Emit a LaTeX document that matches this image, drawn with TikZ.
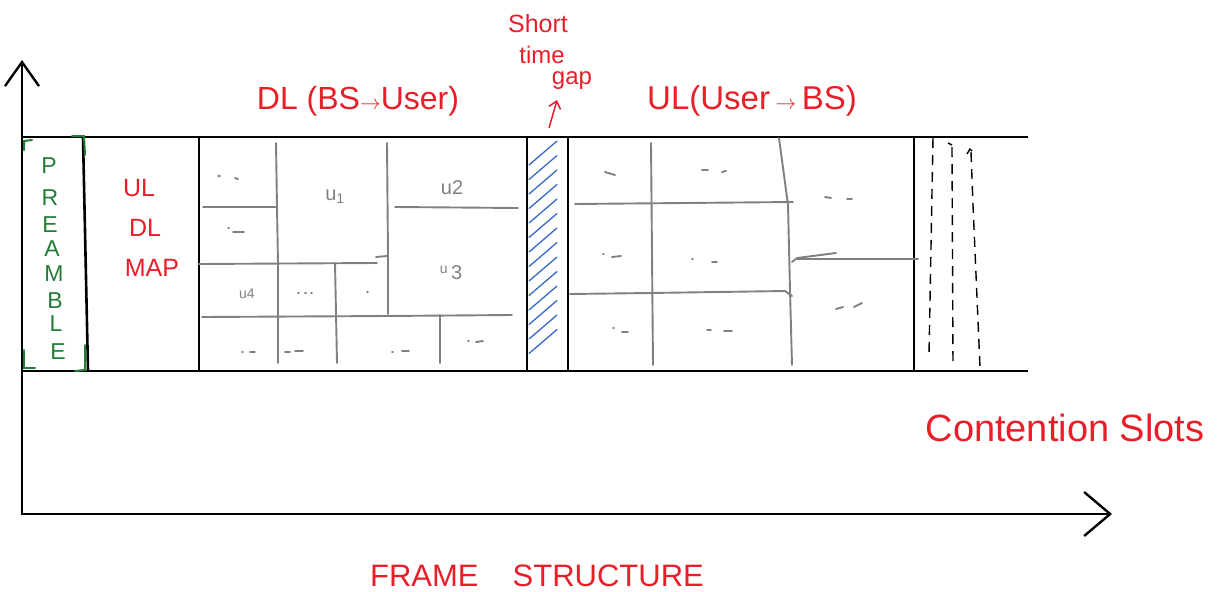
\documentclass[tikz,border=0pt]{standalone}
\usepackage{fontspec}
\setmainfont{Liberation Sans}
\usetikzlibrary{arrows.meta}
\definecolor{hred}{RGB}{232,30,40}
\definecolor{hgreen}{RGB}{35,125,55}
\definecolor{hblue}{RGB}{55,105,200}
\definecolor{hgrey}{RGB}{128,128,128}
\tikzset{
  frameline/.style={line width=2.6pt, black},
  axisline/.style={line width=2.6pt, black, line cap=round},
  gridline/.style={line width=1.9pt, hgrey, line cap=round, line join=round},
  gmark/.style={line width=1.9pt, hgrey, line cap=round},
  hatchline/.style={line width=1.3pt, hblue, line cap=round},
  slotline/.style={line width=1.4pt, black, dash pattern=on 10pt off 7pt},
  bracket/.style={line width=2pt, hgreen, line cap=round},
  redtxt/.style={text=hred, inner sep=0pt},
  greentxt/.style={text=hgreen, inner sep=0pt, font=\fontsize{23}{23}\selectfont},
  greytxt/.style={text=hgrey, inner sep=0pt},
}
\begin{document}
\begin{tikzpicture}[x=1pt,y=-1pt]
\useasboundingbox (0,0) rectangle (1219,592);
% axes
\coordinate (origin) at (22,514);
\coordinate (ytop) at (22,60);
\coordinate (xend) at (1112,514);
\draw[axisline, -{Straight Barb[length=24pt,width=34pt,line width=2.4pt]}] (origin) -- (ytop);
\draw[axisline, -{Straight Barb[length=26pt,width=44pt,line width=2.4pt]}] (origin) -- (xend);
% frame top/bottom
\coordinate (tl) at (22,137);
\coordinate (tr) at (1028,137);
\coordinate (bl) at (22,371);
\coordinate (br) at (1028,371);
\draw[frameline] (tl) -- (tr);
\draw[frameline] (bl) -- (br);
% separators
\draw[frameline] (83,137) -- (88,371);
\draw[frameline] (199,137) -- (199,371);
\draw[frameline] (527,137) -- (527,371);
\draw[frameline] (568,137) -- (568,371);
\draw[frameline] (914,137) -- (914,371);
% preamble brackets
\draw[bracket] (24,150) -- (24,141) -- (32,140);
\draw[bracket] (72,136) -- (84,136) -- (85,155);
\draw[bracket] (24,350) -- (24,368) -- (35,368);
\draw[bracket] (85,345) -- (85,370) -- (75,371);
% preamble letters
\node[greentxt] (p1) at (49,166) {P};
\node[greentxt] (p2) at (50,198) {R};
\node[greentxt] (p3) at (50,225) {E};
\node[greentxt] (p4) at (52,249) {A};
\node[greentxt] (p5) at (54,274) {M};
\node[greentxt] (p6) at (55,301) {B};
\node[greentxt] (p7) at (56,324) {L};
\node[greentxt] (p8) at (58,352) {E};
% UL DL MAP
\node[redtxt, font=\fontsize{25}{25}\selectfont] (m1) at (139,188) {UL};
\node[redtxt, font=\fontsize{25}{25}\selectfont] (m2) at (145,228) {DL};
\node[redtxt, font=\fontsize{25}{25}\selectfont] (m3) at (152,268) {MAP};
% DL grid
\draw[gridline] (276,143) -- (277,207) -- (278,263) -- (278,363);
\draw[gridline] (203,207) -- (277,207);
\draw[gridline] (387,143) -- (388,256) -- (388,314);
\draw[gridline] (198,264) -- (377,263);
\draw[gridline] (376,257) -- (387,256);
\draw[gridline] (395,207) -- (518,208);
\draw[gridline] (335,263) -- (337,363);
\draw[gridline] (202,317) -- (387,316) -- (512,315);
\draw[gridline] (440,315) -- (440,363);
\node[greytxt, font=\fontsize{20}{20}\selectfont] (u1) at (335,197) {u\textsubscript{1}};
\node[greytxt, font=\fontsize{20}{20}\selectfont] (u2) at (452,188) {u2};
\node[greytxt, font=\fontsize{20}{20}\selectfont] (u3) at (451,273) {\raisebox{0.6ex}{\fontsize{14}{14}\selectfont u}\,3};
\node[greytxt, font=\fontsize{14}{14}\selectfont] (u4) at (247,294) {u4};
% DL marks
\draw[gmark] (218,176) -- (220,176) (235,178) -- (238,179);
\draw[gmark] (228,228) -- (229,228) (233,232) -- (244,232);
\draw[gmark] (298,293) -- (299,293) (305,293) -- (306,293) (311,293) -- (312,293);
\draw[gmark] (367,292) -- (368,292);
\draw[gmark] (242,352) -- (243,352) (250,352) -- (255,352);
\draw[gmark] (285,352) -- (290,352) (295,351) -- (303,351);
\draw[gmark] (392,352) -- (393,352) (402,351) -- (409,351);
\draw[gmark] (468,341) -- (469,341) (476,342) -- (483,341);
% UL grid
\draw[gridline] (651,143) -- (653,365);
\draw[gridline] (779,138) -- (788,205) -- (790,290) -- (792,365);
\draw[gridline] (575,204) -- (793,202);
\draw[gridline] (792,262) -- (797,258) -- (836,253);
\draw[gridline] (797,259) -- (918,259);
\draw[gridline] (570,294) -- (650,293) -- (785,291) -- (792,296);
% UL marks
\draw[gmark] (605,172) -- (615,175);
\draw[gmark] (702,170) -- (708,170) (722,172) -- (726,171);
\draw[gmark] (825,197) -- (831,198) (847,199) -- (852,199);
\draw[gmark] (603,254) -- (604,254) (612,257) -- (621,256);
\draw[gmark] (692,259) -- (693,259) (712,262) -- (717,262);
\draw[gmark] (836,309) -- (843,307) (854,307) -- (862,303);
\draw[gmark] (613,328) -- (614,328) (622,332) -- (628,332);
\draw[gmark] (707,330) -- (711,330) (724,331) -- (732,331);
% gap hatch
\foreach \i in {0,...,13}{
  \draw[hatchline] (529,{165+14.5*\i}) -- (557,{141+14.5*\i});
}
% contention slots dashed
\draw[slotline] (933,138) -- (929,355);
\draw[line width=1.4pt] (948,143) -- (952,145);
\draw[slotline] (952,147) -- (953,367);
\draw[line width=1.4pt] (967,154) -- (970,149) -- (972,151);
\draw[slotline] (971,152) -- (973,205) -- (980,367);
% labels
\node[redtxt, font=\fontsize{32}{32}\selectfont] (dl) at (358,101) {DL (BS{\fontsize{22}{22}\selectfont$\rightarrow$}User)};
\node[redtxt, font=\fontsize{33}{33}\selectfont] (ul) at (752,101) {UL(User\,{\fontsize{22}{22}\selectfont$\rightarrow$}\,BS)};
\node[redtxt, font=\fontsize{25}{25}\selectfont] (st1) at (538,24) {Short};
\node[redtxt, font=\fontsize{24}{24}\selectfont] (st2) at (542,55) {time};
\node[redtxt, font=\fontsize{24}{24}\selectfont, anchor=base] (st3) at (572,84) {gap};
\coordinate (gapfoot) at (549,128);
\coordinate (gaptip) at (557,100);
\draw[hred, line width=1.5pt, -{Straight Barb[length=7pt,width=12pt,line width=1.5pt]}] (gapfoot) -- (gaptip);
\node[redtxt, font=\fontsize{38}{38}\selectfont] (cs) at (1065,428) {Contention Slots};
\node[redtxt, font=\fontsize{31}{31}\selectfont] (fs) at (537,576) {FRAME\hspace{1.1em}STRUCTURE};
\end{tikzpicture}
\end{document}
